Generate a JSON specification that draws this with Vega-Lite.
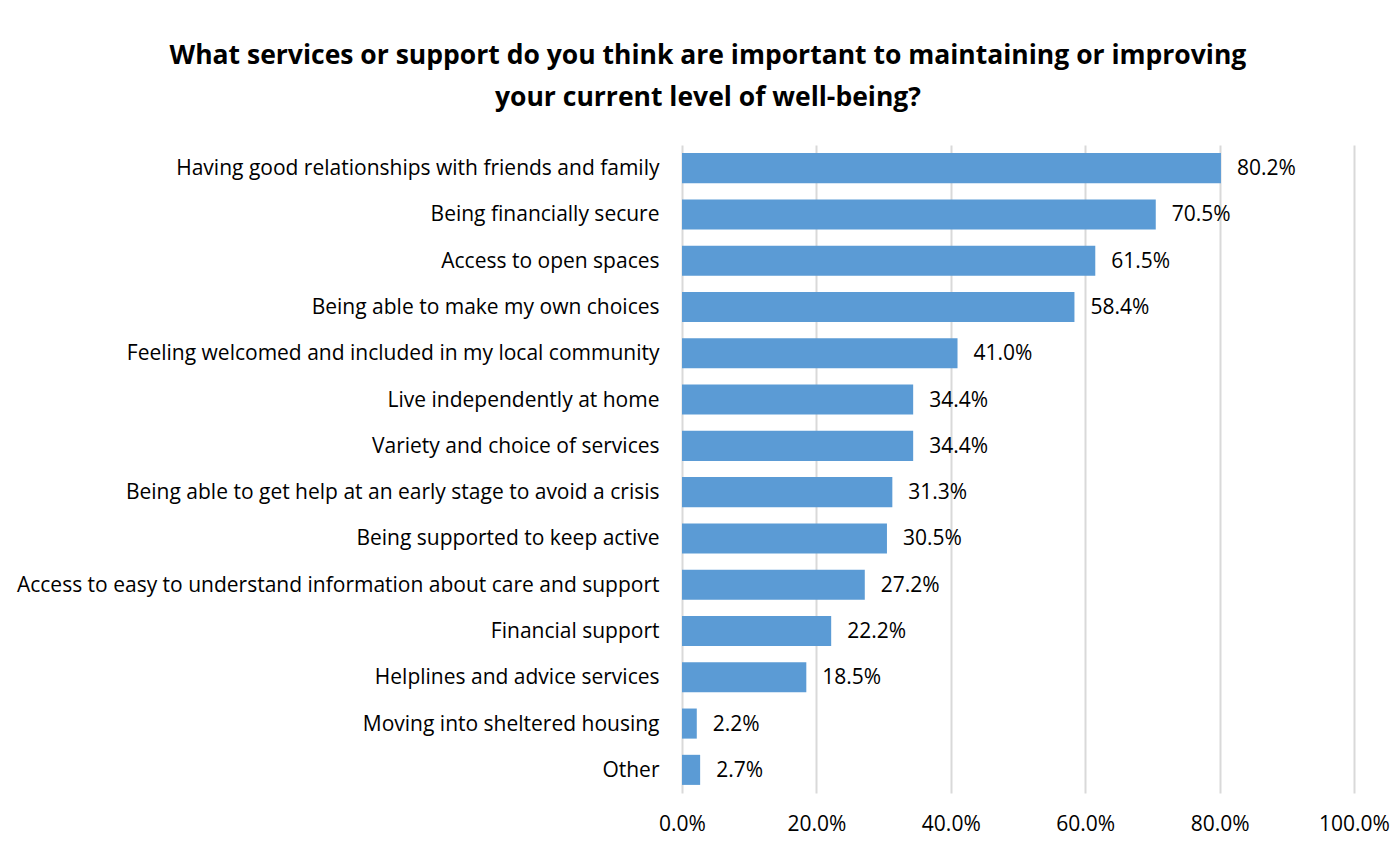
{
  "$schema": "https://vega.github.io/schema/vega-lite/v6.json",
  "width": 672,
  "height": 648,
  "autosize": {"type": "none"},
  "padding": {"left": 682, "top": 145, "right": 43, "bottom": 54},
  "background": "white",
  "title": {
    "text": ["What services or support do you think are important to maintaining or improving", "your current level of well-being?"],
    "font": "Open Sans",
    "fontSize": 26.5,
    "fontWeight": "bold",
    "color": "#000000",
    "anchor": "middle",
    "frame": "bounds",
    "lineHeight": 42,
    "offset": 34,
    "dx": 5
  },
  "data": {
    "values": [
      {"item": "Having good relationships with friends and family", "pct": 0.802},
      {"item": "Being financially secure", "pct": 0.705},
      {"item": "Access to open spaces", "pct": 0.615},
      {"item": "Being able to make my own choices", "pct": 0.584},
      {"item": "Feeling welcomed and included in my local community", "pct": 0.410},
      {"item": "Live independently at home", "pct": 0.344},
      {"item": "Variety and choice of services", "pct": 0.344},
      {"item": "Being able to get help at an early stage to avoid a crisis", "pct": 0.313},
      {"item": "Being supported to keep active", "pct": 0.305},
      {"item": "Access to easy to understand information about care and support", "pct": 0.272},
      {"item": "Financial support", "pct": 0.222},
      {"item": "Helplines and advice services", "pct": 0.185},
      {"item": "Moving into sheltered housing", "pct": 0.022},
      {"item": "Other", "pct": 0.027}
    ]
  },
  "encoding": {
    "y": {
      "field": "item",
      "type": "nominal",
      "sort": null,
      "scale": {"paddingInner": 0.35, "paddingOuter": 0.175},
      "axis": {
        "title": null,
        "domain": false,
        "ticks": false,
        "grid": false,
        "labelFont": "Open Sans",
        "labelFontSize": 21,
        "labelColor": "#000000",
        "labelPadding": 23,
        "labelLimit": 700,
        "labelOffset": 1
      }
    },
    "x": {
      "field": "pct",
      "type": "quantitative",
      "scale": {"domain": [0, 1], "nice": false},
      "axis": {
        "title": null,
        "format": ".1%",
        "values": [0, 0.2, 0.4, 0.6, 0.8, 1.0],
        "domain": false,
        "ticks": false,
        "grid": true,
        "gridColor": "#D9D9D9",
        "gridWidth": 2,
        "labelFont": "Open Sans",
        "labelFontSize": 21,
        "labelColor": "#000000",
        "labelPadding": 20,
        "labelFlush": false
      }
    }
  },
  "layer": [
    {"mark": {"type": "bar", "color": "#5B9BD5"}},
    {
      "mark": {"type": "text", "align": "left", "baseline": "middle", "dx": 16, "dy": 1, "font": "Open Sans", "fontSize": 21, "color": "#000000"},
      "encoding": {"text": {"field": "pct", "type": "quantitative", "format": ".1%"}}
    }
  ],
  "config": {"view": {"stroke": null}}
}
